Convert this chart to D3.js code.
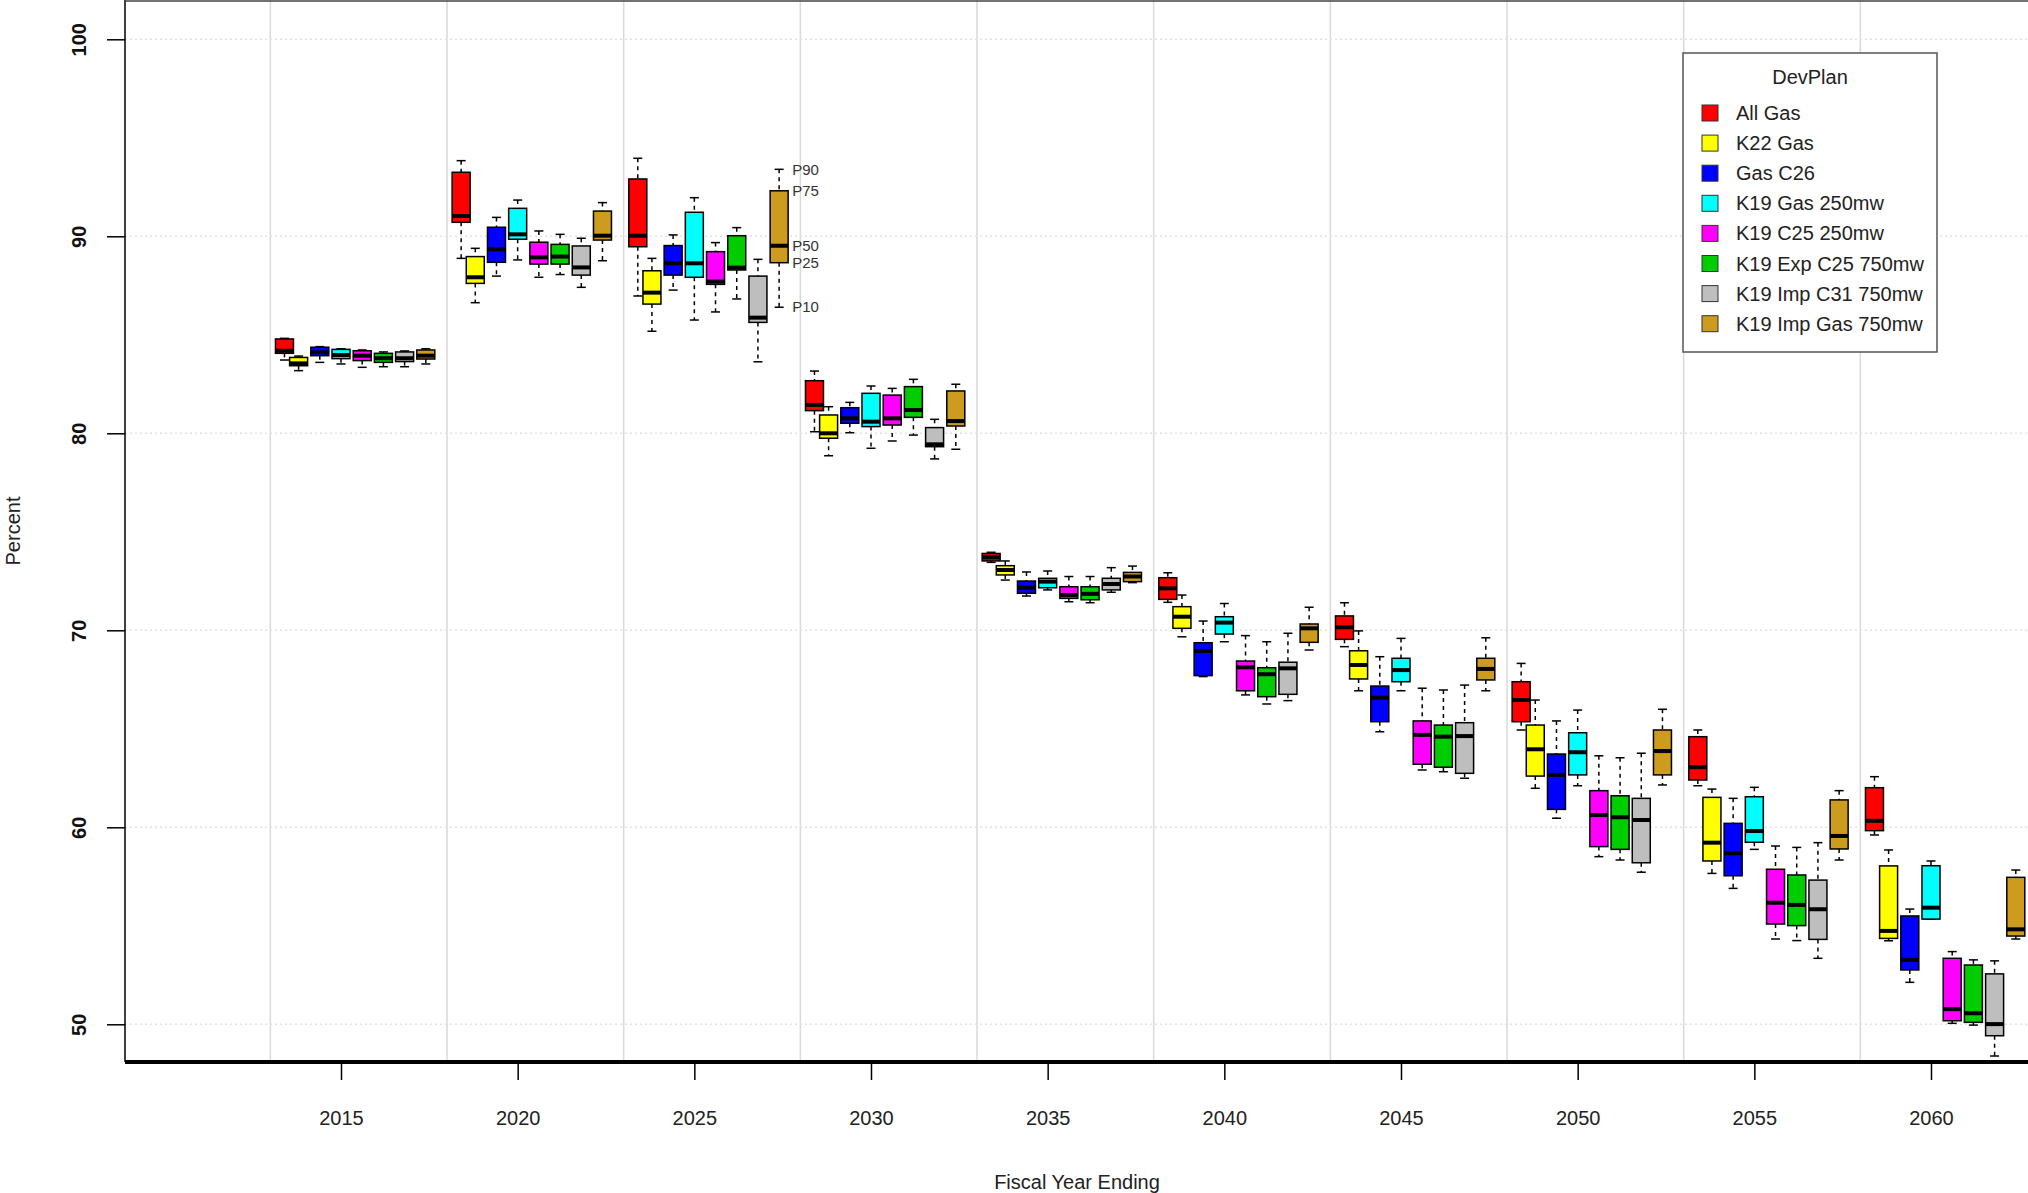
<!DOCTYPE html>
<html lang="en">
<head>
<meta charset="UTF-8">
<script src="https://cdn.jsdelivr.net/npm/d3@7"></script>
<title>DevPlan percentiles</title>
<style>
    body { margin: 0; background: #fff; }
    svg { display: block; font-family: "Liberation Sans", Arial, sans-serif; }
</style>
</head>
<body>
<div id="chart"></div>
<script>
/*------------------- data --------------------*/
const years = [2015, 2020, 2025, 2030, 2035, 2040, 2045, 2050, 2055, 2060];
const plans = ["All Gas", "K22 Gas", "Gas C26", "K19 Gas 250mw", "K19 C25 250mw",
               "K19 Exp C25 750mw", "K19 Imp C31 750mw", "K19 Imp Gas 750mw"];
const planColors = ["#ff0000", "#ffff00", "#0000ff", "#00ffff", "#ff00ff", "#00cd00", "#bebebe", "#cd9b1d"];
// year offset of each plan's box inside a group
const planOffsets = [-1.6, -1.2, -0.6, 0, 0.6, 1.2, 1.8, 2.4];
const gridYears = [2013, 2018, 2023, 2028, 2033, 2038, 2043, 2048, 2053, 2058, 2063];
const yTicks = [50, 60, 70, 80, 90, 100];
const pctLabels = ["P90", "P75", "P50", "P25", "P10"];

// one row per year, one value per plan
const p90 = [
    [84.82, 83.92, 84.40, 84.29, 84.23, 84.13, 84.18, 84.29],
    [93.84, 89.39, 90.96, 91.84, 90.27, 90.10, 89.90, 91.71],
    [93.96, 88.88, 90.07, 91.96, 89.68, 90.44, 88.83, 93.40],
    [83.16, 81.35, 81.57, 82.40, 82.28, 82.74, 80.71, 82.49],
    [73.96, 73.52, 72.96, 73.01, 72.73, 72.73, 73.18, 73.26],
    [72.92, 71.79, 70.47, 71.36, 69.73, 69.42, 69.85, 71.17],
    [71.40, 69.97, 68.66, 69.59, 67.06, 66.97, 67.22, 69.62],
    [68.32, 66.46, 65.40, 65.95, 63.63, 63.53, 63.76, 65.99],
    [64.94, 61.94, 61.47, 62.03, 59.05, 58.98, 59.22, 61.86],
    [62.57, 58.85, 55.85, 58.29, 53.69, 53.27, 53.22, 57.83]
];
const p75 = [
    [84.79, 83.85, 84.37, 84.26, 84.19, 84.06, 84.13, 84.23],
    [93.25, 88.97, 90.46, 91.42, 89.70, 89.59, 89.51, 91.28],
    [92.91, 88.25, 89.53, 91.22, 89.22, 90.03, 87.98, 92.31],
    [82.67, 80.93, 81.30, 82.03, 81.94, 82.37, 80.29, 82.15],
    [73.90, 73.28, 72.50, 72.64, 72.21, 72.21, 72.64, 72.94],
    [72.67, 71.20, 69.37, 70.69, 68.44, 68.10, 68.38, 70.32],
    [70.73, 68.96, 67.17, 68.58, 65.40, 65.19, 65.31, 68.58],
    [67.39, 65.19, 63.72, 64.80, 61.86, 61.60, 61.47, 64.94],
    [64.60, 61.52, 60.20, 61.55, 57.87, 57.58, 57.32, 61.39],
    [62.01, 58.04, 55.50, 58.05, 53.35, 53.01, 52.56, 57.46]
];
const p50 = [
    [84.19, 83.55, 84.11, 83.97, 83.94, 83.81, 83.81, 83.94],
    [91.03, 87.92, 89.34, 90.10, 88.93, 88.97, 88.42, 90.03],
    [90.03, 87.14, 88.63, 88.63, 87.70, 88.41, 85.87, 89.52],
    [81.44, 80.00, 80.76, 80.59, 80.76, 81.18, 79.44, 80.62],
    [73.70, 73.06, 72.16, 72.47, 71.79, 71.85, 72.35, 72.73],
    [72.13, 70.69, 68.95, 70.39, 68.12, 67.77, 68.07, 70.10],
    [70.15, 68.24, 66.58, 67.98, 64.69, 64.60, 64.63, 68.04],
    [66.46, 63.96, 62.66, 63.81, 60.62, 60.51, 60.37, 63.87],
    [63.05, 59.22, 58.68, 59.81, 56.17, 56.06, 55.84, 59.56],
    [60.33, 54.74, 53.27, 55.92, 50.77, 50.56, 50.01, 54.82]
];
const p25 = [
    [84.06, 83.43, 83.94, 83.79, 83.69, 83.60, 83.64, 83.77],
    [90.71, 87.61, 88.68, 89.85, 88.59, 88.59, 88.03, 89.81],
    [89.47, 86.56, 88.03, 87.92, 87.56, 88.29, 85.63, 88.66],
    [81.15, 79.75, 80.51, 80.34, 80.42, 80.81, 79.32, 80.37],
    [73.52, 72.81, 71.88, 72.16, 71.62, 71.55, 72.05, 72.47],
    [71.57, 70.10, 67.70, 69.81, 66.93, 66.63, 66.75, 69.39],
    [69.54, 67.53, 65.36, 67.39, 63.20, 63.05, 62.74, 67.48],
    [65.36, 62.60, 60.91, 62.66, 59.02, 58.88, 58.20, 62.66],
    [62.40, 58.29, 57.54, 59.24, 55.09, 55.01, 54.31, 58.90],
    [59.83, 54.36, 52.76, 55.34, 50.18, 50.10, 49.42, 54.48]
];
const p10 = [
    [83.72, 83.18, 83.60, 83.52, 83.35, 83.38, 83.38, 83.52],
    [88.88, 86.63, 87.98, 88.80, 87.92, 88.06, 87.41, 88.76],
    [86.97, 85.18, 87.27, 85.75, 86.16, 86.82, 83.63, 86.40],
    [80.08, 78.86, 80.03, 79.24, 79.61, 79.91, 78.70, 79.19],
    [73.45, 72.55, 71.74, 72.05, 71.45, 71.40, 71.93, 72.42],
    [71.42, 69.67, 67.65, 69.42, 66.72, 66.26, 66.43, 69.00],
    [69.17, 66.93, 64.85, 66.93, 62.91, 62.82, 62.49, 66.93],
    [64.94, 61.98, 60.46, 62.11, 58.51, 58.34, 57.72, 62.15],
    [62.11, 57.66, 56.90, 58.88, 54.33, 54.25, 53.35, 58.34],
    [59.61, 54.24, 52.13, 55.34, 50.05, 49.96, 48.39, 54.33]
];

/*------------------- layout --------------------*/
const W = 2028, H = 1193;
const left = 125, bottom = 1062;
const boxW = 18;

const svg = d3.select("#chart").append("svg")
    .attr("width", W)
    .attr("height", H);

const x = d3.scaleLinear().domain([2015, 2060]).range([341, 1931]);
const y = d3.scaleLinear().domain([50, 100]).range([1024.3, 39.3]);

// flatten to one record per box
const boxes = [];
years.forEach((yr, g) => {
    plans.forEach((p, i) => {
        boxes.push({
            year: yr, plan: i,
            cx: x(yr + planOffsets[i]),
            p90: p90[g][i], p75: p75[g][i], p50: p50[g][i], p25: p25[g][i], p10: p10[g][i]
        });
    });
});

/*------------------- grid --------------------*/
svg.append("g").selectAll("line")
    .data(gridYears)
    .enter().append("line")
    .attr("x1", d => x(d)).attr("x2", d => x(d))
    .attr("y1", 0).attr("y2", bottom)
    .attr("stroke", "#d9d9d9")
    .attr("stroke-width", 1.5);

svg.append("g").selectAll("line")
    .data(yTicks)
    .enter().append("line")
    .attr("x1", left).attr("x2", W)
    .attr("y1", d => y(d)).attr("y2", d => y(d))
    .attr("stroke", "#e2e2e2")
    .attr("stroke-width", 1.5)
    .attr("stroke-dasharray", "2,3");

/*------------------- boxes --------------------*/
const bx = svg.append("g").selectAll("g")
    .data(boxes)
    .enter().append("g");

// whiskers (dashed)
bx.append("line")
    .attr("x1", d => d.cx).attr("x2", d => d.cx)
    .attr("y1", d => y(d.p90)).attr("y2", d => y(d.p75))
    .attr("stroke", "#000").attr("stroke-width", 1.5).attr("stroke-dasharray", "4,4");
bx.append("line")
    .attr("x1", d => d.cx).attr("x2", d => d.cx)
    .attr("y1", d => y(d.p25)).attr("y2", d => y(d.p10))
    .attr("stroke", "#000").attr("stroke-width", 1.5).attr("stroke-dasharray", "4,4");

// caps
bx.selectAll(".cap")
    .data(d => [d.p90, d.p10].map(v => ({ cx: d.cx, v: v })))
    .enter().append("line")
    .attr("class", "cap")
    .attr("x1", d => d.cx - boxW / 4).attr("x2", d => d.cx + boxW / 4)
    .attr("y1", d => y(d.v)).attr("y2", d => y(d.v))
    .attr("stroke", "#000").attr("stroke-width", 1.5);

bx.append("rect")
    .attr("x", d => d.cx - boxW / 2)
    .attr("width", boxW)
    .attr("y", d => y(d.p75))
    .attr("height", d => Math.max(1, y(d.p25) - y(d.p75)))
    .attr("fill", d => planColors[d.plan])
    .attr("stroke", "#000")
    .attr("stroke-width", 1.5);

bx.append("line")
    .attr("x1", d => d.cx - boxW / 2).attr("x2", d => d.cx + boxW / 2)
    .attr("y1", d => y(d.p50)).attr("y2", d => y(d.p50))
    .attr("stroke", "#000").attr("stroke-width", 4);

/*------------------- percentile labels --------------------*/
const ref = boxes.find(b => b.year === 2025 && b.plan === 7);
svg.append("g").selectAll("text")
    .data(pctLabels)
    .enter().append("text")
    .attr("x", ref.cx + 13)
    .attr("y", d => y(ref[d.toLowerCase()]))
    .attr("dy", "0.35em")
    .attr("font-size", 15)
    .attr("fill", "#333")
    .text(d => d);

/*------------------- axes --------------------*/
const xAxis = svg.append("g")
    .attr("transform", `translate(0,${bottom})`)
    .call(d3.axisBottom(x).tickValues(years).tickFormat(d3.format("d")).tickSize(18).tickPadding(31));
xAxis.select(".domain").remove();
xAxis.selectAll(".tick line").attr("stroke", "#000").attr("stroke-width", 1.5);
xAxis.selectAll("text").attr("font-size", 20).attr("fill", "#222");

svg.append("line")
    .attr("x1", left).attr("x2", W)
    .attr("y1", bottom).attr("y2", bottom)
    .attr("stroke", "#000").attr("stroke-width", 4);

const yAxis = svg.append("g")
    .attr("transform", `translate(${left},0)`)
    .call(d3.axisLeft(y).tickValues(yTicks).tickSize(18));
yAxis.select(".domain").remove();
yAxis.selectAll(".tick line").attr("stroke", "#000").attr("stroke-width", 1.5);
yAxis.selectAll("text")
    .attr("x", null)
    .attr("dy", "0.35em")
    .attr("transform", "translate(-46,0) rotate(-90)")
    .attr("text-anchor", "middle")
    .attr("font-size", 20)
    .attr("font-weight", "bold")
    .attr("fill", "#111");

svg.append("line")
    .attr("x1", left).attr("x2", left)
    .attr("y1", 0).attr("y2", bottom)
    .attr("stroke", "#000").attr("stroke-width", 1.5);
svg.append("line")
    .attr("x1", left).attr("x2", W)
    .attr("y1", 1).attr("y2", 1)
    .attr("stroke", "#444").attr("stroke-width", 1.5);

svg.append("text")
    .attr("x", 1077).attr("y", 1189)
    .attr("text-anchor", "middle")
    .attr("font-size", 20)
    .attr("fill", "#222")
    .text("Fiscal Year Ending");

svg.append("text")
    .attr("transform", "translate(13,531) rotate(-90)")
    .attr("dy", "0.35em")
    .attr("text-anchor", "middle")
    .attr("font-size", 20)
    .attr("fill", "#222")
    .text("Percent");

/*------------------- legend --------------------*/
const legend = svg.append("g").attr("transform", "translate(1683,53)");
legend.append("rect")
    .attr("width", 254).attr("height", 299)
    .attr("fill", "#fff")
    .attr("stroke", "#555").attr("stroke-width", 1.5);
legend.append("text")
    .attr("x", 127).attr("y", 24)
    .attr("dy", "0.35em")
    .attr("text-anchor", "middle")
    .attr("font-size", 20)
    .attr("fill", "#222")
    .text("DevPlan");

const item = legend.selectAll(".item")
    .data(plans)
    .enter().append("g")
    .attr("class", "item")
    .attr("transform", (d, i) => `translate(0,${60 + i * 30.1})`);
item.append("rect")
    .attr("x", 19).attr("y", -8)
    .attr("width", 16).attr("height", 16)
    .attr("fill", (d, i) => planColors[i])
    .attr("stroke", "#333").attr("stroke-width", 1);
item.append("text")
    .attr("x", 53)
    .attr("dy", "0.35em")
    .attr("font-size", 20)
    .attr("fill", "#222")
    .text(d => d);
</script>
</body>
</html>
